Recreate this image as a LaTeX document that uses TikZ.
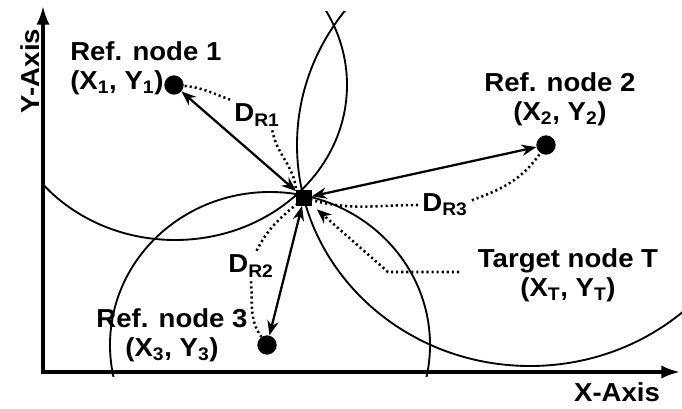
\documentclass[tikz,border=0pt]{standalone}
\usepackage{fontspec}
\setmainfont{Liberation Sans}[FakeStretch=1.06]
\usetikzlibrary{arrows.meta}

\begin{document}
\begin{tikzpicture}[x=0.75pt,y=0.75pt]
	\tikzstyle{RefNode} = [circle, fill=black, minimum size=14.5pt, inner sep=0pt]
	\tikzstyle{TargetNode} = [rectangle, fill=black, minimum size=11.5pt, inner sep=0pt]
	\tikzstyle{Label} = [inner sep=0pt, align=center, font=\fontsize{19.5}{22}\selectfont\bfseries]
	\tikzstyle{Dist} = [inner sep=3pt, font=\fontsize{19.5}{22}\selectfont\bfseries]
	\tikzstyle{axis} = [line width=2.4pt, {Latex[length=14pt,width=10pt]}-{Latex[length=14pt,width=10pt]}]
	\tikzstyle{rangecircle} = [line width=1.4pt]
	\tikzstyle{arrow} = [line width=1.7pt, {Stealth[length=11pt,width=8.5pt]}-{Stealth[length=11pt,width=8.5pt]}]
	\tikzstyle{dotline} = [line width=1.9pt, dash pattern=on 1.6pt off 2.2pt]
	
	%\draw[step=50,gray,very thin] (0,0) grid (682,408);
	
	\useasboundingbox (0,0) rectangle (682,408);
	\draw [axis] (43,402) -- (43,36) -- (680,36);
	\node (xlabel) [Label] at (617,16) {X-Axis};
	\node (ylabel) [Label, rotate=90] at (30,337) {Y-Axis};
	
	\begin{scope}
		\clip (43,32) rectangle (682,396);
		\draw [rangecircle] (175,323) ellipse [x radius=172, y radius=155];
		\draw [rangecircle] (530,263) ellipse [x radius=233, y radius=221];
		\draw [rangecircle] (270,63) ellipse [x radius=160, y radius=153];
	\end{scope}
	
	\node (r1) [RefNode] at (174,323) {};
	\node (r2) [RefNode] at (546,263) {};
	\node (r3) [RefNode] at (267,63) {};
	\node (t) [TargetNode] at (304,210) {};
	
	\node (l1) [Label, anchor=west, align=left] at (70,340) {Ref. node 1\\(X\textsubscript{1}, Y\textsubscript{1})};
	\node (l2) [Label] at (560,309) {Ref. node 2\\(X\textsubscript{2}, Y\textsubscript{2})};
	\node (l3) [Label] at (172,73) {Ref. node 3\\(X\textsubscript{3}, Y\textsubscript{3})};
	\node (lt) [Label] at (568,133) {Target node T\\(X\textsubscript{T}, Y\textsubscript{T})};
	
	\node (d1) [Dist] at (257,293) {D\textsubscript{R1}};
	\node (d2) [Dist] at (251,142) {D\textsubscript{R2}};
	\node (d3) [Dist] at (445,203) {D\textsubscript{R3}};
	
	\draw [arrow] (t) -- (r1);
	\draw [arrow] (t) -- (r2);
	\draw [arrow] (t) -- (r3);
	
	\draw [dotline] (d1.north west) to[out=160,in=-5] (r1);
	\draw [dotline] (d1.-45) to[out=-80,in=95] (t.north west);
	\draw [dotline] (d2.70) to[out=63,in=220] (t);
	\draw [dotline] (d2.south) to[out=-85,in=125] (r3);
	\draw [dotline] (d3.10) to[out=20,in=235] (r2);
	\draw [dotline] (d3.west) to[out=180,in=-15] (t);
	
	\coordinate (tp) at (459,136);
	\coordinate (tb) at (388,136);
	\draw [dotline, -{Stealth[length=11pt,width=9pt]}, shorten >=5pt] (tp) -- (tb) -- (t);
\end{tikzpicture}
\end{document}
